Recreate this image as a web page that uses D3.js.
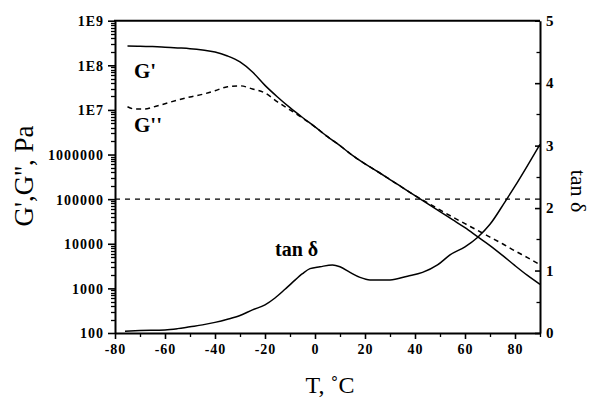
<!DOCTYPE html>
<html>
<head>
<meta charset="utf-8">
<script src="https://cdn.jsdelivr.net/npm/d3@7"></script>
<style>
  html, body { margin: 0; padding: 0; background: #fff; }
  svg { display: block; }
  text { font-family: "Liberation Serif", "Times New Roman", serif; fill: #000; }
</style>
</head>
<body>
<svg id="chart" width="590" height="400"></svg>
<script>
// ---------- data ----------
const gPrimeT   = [-75,-70,-65,-60,-55,-50,-45,-40,-35,-30,-25,-20,-15,-10,-5,0,5,10,15,20,25,30,35,40,45,50,55,60,65,70,75,80,85,90];
const gPrimeLog = [8.434,8.43,8.42,8.405,8.39,8.374,8.345,8.30,8.21,8.076,7.85,7.55,7.29,7.05,6.83,6.62,6.40,6.20,5.98,5.79,5.62,5.44,5.26,5.08,4.90,4.72,4.54,4.36,4.16,3.96,3.74,3.51,3.29,3.09];

const gDoubleT   = [-75,-72,-68,-65,-60,-55,-50,-45,-40,-35,-30,-25,-20,-15,-10,-5,0,5,10,15,20,25,30,35,40,45,50,55,60,65,70,75,80,85,90];
const gDoubleLog = [7.07,7.02,7.02,7.06,7.14,7.22,7.29,7.35,7.43,7.52,7.54,7.47,7.38,7.18,7.0,6.82,6.62,6.40,6.20,5.98,5.79,5.62,5.44,5.26,5.08,4.92,4.76,4.60,4.45,4.30,4.15,4.00,3.84,3.69,3.53];

const tanT     = [-76,-70,-60,-55,-50,-45,-40,-35,-30,-25,-20,-16,-12,-9,-5,-2,2,7,10,14,18,22,30,37,43,49,54,60,65,70,76,80,85,90];
const tanDelta = [0.03,0.04,0.05,0.07,0.10,0.13,0.17,0.22,0.28,0.37,0.45,0.56,0.70,0.81,0.95,1.03,1.06,1.09,1.06,0.97,0.89,0.85,0.85,0.91,0.97,1.09,1.25,1.38,1.53,1.74,2.10,2.35,2.68,3.02];

const refLineValue = 100000;

const xTicks = [-80,-60,-40,-20,0,20,40,60,80];
const xMinorTicks = [-70,-50,-30,-10,10,30,50,70,90];
const yLeftTicks = [100,1000,10000,100000,1000000,1e7,1e8,1e9];
const yLeftTickLabels = ["100","1000","10000","100000","1000000","1E7","1E8","1E9"];
const yRightTicks = [0,1,2,3,4,5];
const yRightMinor = [0.5,1.5,2.5,3.5,4.5];

// ---------- layout ----------
const L = 115, R = 540, T = 20.7, B = 333;
const svg = d3.select("#chart");

const x = d3.scaleLinear().domain([-80, 90]).range([L, R]);
const yL = d3.scaleLog().domain([100, 1e9]).range([B, T]);
const yR = d3.scaleLinear().domain([0, 5]).range([B, T]);

// minor log ticks
const yLeftMinor = [];
for (let e = 2; e < 9; e++) for (let m = 2; m <= 9; m++) yLeftMinor.push(m * Math.pow(10, e));

const tickFont = "bold 14px 'Liberation Serif', serif";

// ---------- minor ticks (explicit lines via scales) ----------
const minor = svg.append("g").attr("stroke", "#000").attr("stroke-width", 1.3);
minor.selectAll("line.ml").data(yLeftMinor).join("line").attr("class", "ml")
  .attr("x1", L - 4).attr("x2", L).attr("y1", d => Math.round(yL(d)) + 0.5).attr("y2", d => Math.round(yL(d)) + 0.5);
minor.selectAll("line.mb").data(xMinorTicks).join("line").attr("class", "mb")
  .attr("x1", d => Math.round(x(d)) + 0.5).attr("x2", d => Math.round(x(d)) + 0.5).attr("y1", B).attr("y2", B + 4);
minor.selectAll("line.mr").data(yRightMinor).join("line").attr("class", "mr")
  .attr("x1", R - 3.5).attr("x2", R).attr("y1", d => Math.round(yR(d)) + 0.5).attr("y2", d => Math.round(yR(d)) + 0.5);

// ---------- axes ----------
// left axis
const leftAxis = d3.axisLeft(yL).tickValues(yLeftTicks)
  .tickFormat((d, i) => yLeftTickLabels[i]).tickSize(7).tickSizeOuter(0).tickPadding(4);
const gL = svg.append("g").attr("transform", `translate(${L},0)`).call(leftAxis);
gL.select(".domain").attr("stroke", "#000").attr("stroke-width", 2);
gL.selectAll(".tick line").attr("stroke", "#000").attr("stroke-width", 1.6).attr("x2", -7).attr("x1", 1);
gL.selectAll(".tick text").style("font", tickFont).style("letter-spacing", "1px").attr("dy", "0.35em");

// bottom axis
const bottomAxis = d3.axisBottom(x).tickValues(xTicks).tickSize(6).tickSizeOuter(0).tickPadding(5);
const gB = svg.append("g").attr("transform", `translate(0,${B})`).call(bottomAxis);
gB.select(".domain").attr("stroke", "#000").attr("stroke-width", 2);
gB.selectAll(".tick line").attr("stroke", "#000").attr("stroke-width", 1.6);
gB.selectAll(".tick text").style("font", tickFont).style("letter-spacing", "1px").text(d => d < 0 ? "-" + Math.abs(d) : d);

// right axis (ticks pointing inward)
const rightAxis = d3.axisRight(yR).tickValues(yRightTicks).tickSize(-5).tickSizeOuter(0).tickPadding(11)
  .tickFormat(d3.format("d"));
const gR = svg.append("g").attr("transform", `translate(${R},0)`).call(rightAxis);
gR.select(".domain").attr("stroke", "#000").attr("stroke-width", 2);
gR.selectAll(".tick line").attr("stroke", "#000").attr("stroke-width", 1.6);
gR.selectAll(".tick text").style("font", "bold 15px 'Liberation Serif', serif").attr("x", 6);

// top border
svg.append("line").attr("x1", L - 1).attr("x2", R).attr("y1", yL(1e9)).attr("y2", yL(1e9))
  .attr("stroke", "#000").attr("stroke-width", 2);

// ---------- reference dashed line ----------
svg.append("line").attr("x1", L).attr("x2", R).attr("y1", yL(refLineValue)).attr("y2", yL(refLineValue))
  .attr("stroke", "#000").attr("stroke-width", 1.4).attr("stroke-dasharray", "5,5");

// ---------- curves ----------
const lineL = d3.line().x(d => x(d[0])).y(d => yL(Math.pow(10, d[1]))).curve(d3.curveMonotoneX);
const lineR = d3.line().x(d => x(d[0])).y(d => yR(d[1])).curve(d3.curveMonotoneX);

svg.append("path").datum(d3.zip(gPrimeT, gPrimeLog)).attr("d", lineL)
  .attr("fill", "none").attr("stroke", "#000").attr("stroke-width", 1.5);
svg.append("path").datum(d3.zip(gDoubleT, gDoubleLog)).attr("d", lineL)
  .attr("fill", "none").attr("stroke", "#000").attr("stroke-width", 1.5).attr("stroke-dasharray", "5,4");
svg.append("path").datum(d3.zip(tanT, tanDelta)).attr("d", lineR)
  .attr("fill", "none").attr("stroke", "#000").attr("stroke-width", 1.5);

// ---------- in-plot labels ----------
svg.append("text").attr("x", 134).attr("y", 78).style("font", "bold 21px 'Liberation Serif', serif").text("G'");
svg.append("text").attr("x", 134).attr("y", 132).style("font", "bold 21px 'Liberation Serif', serif").text("G''");
svg.append("text").attr("x", 275).attr("y", 256).style("font", "bold 20px 'Liberation Serif', serif").text("tan δ");

// ---------- axis titles ----------
svg.append("text").attr("x", 330).attr("y", 393).attr("text-anchor", "middle")
  .style("font", "24px 'Liberation Serif', serif").text("T, ˚C");
svg.append("text").attr("transform", "translate(33,176) rotate(-90)").attr("text-anchor", "middle")
  .style("font", "27px 'Liberation Serif', serif").text("G',G'', Pa");
svg.append("text").attr("transform", "translate(571,191) rotate(90)").attr("text-anchor", "middle")
  .style("font", "22px 'Liberation Serif', serif").text("tan δ");
</script>
</body>
</html>
